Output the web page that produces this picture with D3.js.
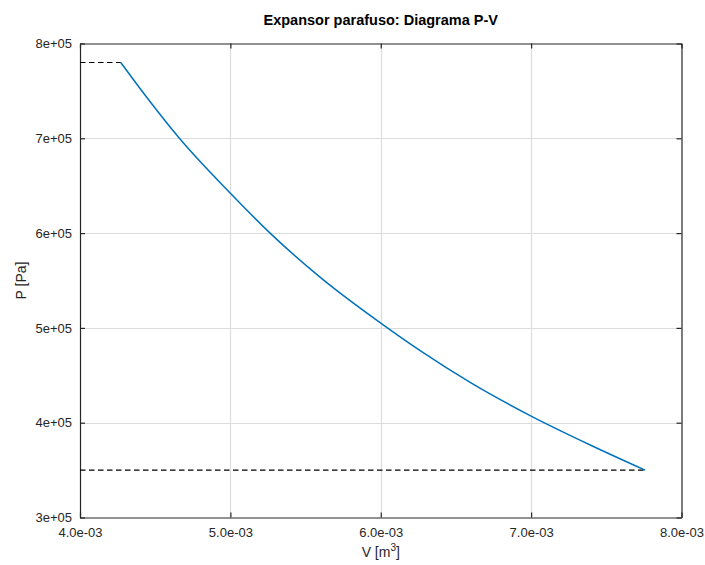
<!DOCTYPE html>
<html>
<head>
<meta charset="utf-8">
<script src="https://cdn.jsdelivr.net/npm/d3@7"></script>
<style>
  html, body { margin: 0; padding: 0; background: #ffffff; }
  svg { display: block; font-family: "Liberation Sans", Arial, Helvetica, sans-serif; }
</style>
</head>
<body>
<svg id="chart" width="705" height="565"></svg>
<script>
// Expansion curve of the screw expander (volume in m^3, pressure in Pa)
const volume   = [4.271e-3, 4.45e-3, 4.661e-3, 5.000e-3, 5.264e-3, 5.60e-3, 6.000e-3, 6.262e-3, 6.60e-3, 7.000e-3, 7.40e-3, 7.758e-3];
const pressure = [7.80e5,   7.42e5,  7.00e5,   6.42e5,   6.00e5,   5.53e5,  5.05e5,   4.76e5,   4.42e5,  4.07e5,   3.76e5,  3.50e5];

// Admission and discharge pressure levels (dashed)
const admission = { v: [4.0e-3, 4.271e-3], p: 7.80e5 };
const discharge = { v: [4.0e-3, 7.758e-3], p: 3.50e5 };

const xTicks = [4.0e-3, 5.0e-3, 6.0e-3, 7.0e-3, 8.0e-3];
const yTicks = [3e5, 4e5, 5e5, 6e5, 7e5, 8e5];
const xTickLabels = ["4.0e-03", "5.0e-03", "6.0e-03", "7.0e-03", "8.0e-03"];
const yTickLabels = ["3e+05", "4e+05", "5e+05", "6e+05", "7e+05", "8e+05"];

const titleText = "Expansor parafuso: Diagrama P-V";

const svg = d3.select("#chart");
const plot = { left: 80, right: 681.5, top: 43.5, bottom: 517.5 };

const x = d3.scaleLinear().domain([4.0e-3, 8.0e-3]).range([plot.left, plot.right]);
const y = d3.scaleLinear().domain([3e5, 8e5]).range([plot.bottom, plot.top]);

const axisColor = "#262626";
const gridColor = "#dcdcdc";

// Grid lines
const grid = svg.append("g");
grid.selectAll("line.vx").data(xTicks.slice(1, -1)).enter().append("line")
  .attr("x1", d => Math.round(x(d)) + 0.5).attr("x2", d => Math.round(x(d)) + 0.5)
  .attr("y1", plot.top).attr("y2", plot.bottom)
  .attr("stroke", gridColor).attr("stroke-width", 1.2);
grid.selectAll("line.hy").data(yTicks.slice(1, -1)).enter().append("line")
  .attr("y1", d => Math.round(y(d)) + 0.5).attr("y2", d => Math.round(y(d)) + 0.5)
  .attr("x1", plot.left).attr("x2", plot.right)
  .attr("stroke", gridColor).attr("stroke-width", 1.2);

// Axes with inward ticks on all four sides
const fmtX = (d, i) => xTickLabels[i];
const fmtY = (d, i) => yTickLabels[i];

const axB = svg.append("g").attr("transform", `translate(0,${plot.bottom})`)
  .call(d3.axisBottom(x).tickValues(xTicks).tickFormat(fmtX).tickSizeInner(-5).tickSizeOuter(0).tickPadding(10));
const axT = svg.append("g").attr("transform", `translate(0,${plot.top})`)
  .call(d3.axisTop(x).tickValues(xTicks).tickFormat("").tickSizeInner(-5).tickSizeOuter(0));
const axL = svg.append("g").attr("transform", `translate(${plot.left},0)`)
  .call(d3.axisLeft(y).tickValues(yTicks).tickFormat(fmtY).tickSizeInner(-5).tickSizeOuter(0).tickPadding(8));
const axR = svg.append("g").attr("transform", `translate(${plot.right},0)`)
  .call(d3.axisRight(y).tickValues(yTicks).tickFormat("").tickSizeInner(-5).tickSizeOuter(0));

[axB, axT, axL, axR].forEach(g => {
  g.select(".domain").attr("stroke", axisColor).attr("stroke-width", 1.2);
  g.selectAll(".tick line").attr("stroke", axisColor).attr("stroke-width", 1.2);
  g.selectAll(".tick text").attr("fill", axisColor).attr("font-size", 13)
    .attr("font-family", "'Liberation Sans', Arial, sans-serif");
});

// Dashed pressure levels
const dashLine = d3.line().x(d => x(d[0])).y(d => y(d[1]));
[admission, discharge].forEach(lvl => {
  svg.append("path")
    .attr("d", dashLine(lvl.v.map(v => [v, lvl.p])))
    .attr("fill", "none").attr("stroke", "#000000").attr("stroke-width", 1.1)
    .attr("stroke-dasharray", "5.5,3.5");
});

// Expansion curve
const curve = d3.line().x((d, i) => x(volume[i])).y((d, i) => y(pressure[i])).curve(d3.curveMonotoneX);
svg.append("path")
  .attr("d", curve(volume))
  .attr("fill", "none").attr("stroke", "#0072BD").attr("stroke-width", 1.5);

// Title and axis labels
svg.append("text").attr("x", (plot.left + plot.right) / 2).attr("y", 25)
  .attr("text-anchor", "middle").attr("font-weight", "bold").attr("font-size", 14.5)
  .attr("fill", "#000").text(titleText);

const xl = svg.append("text").attr("x", (plot.left + plot.right) / 2).attr("y", 557)
  .attr("text-anchor", "middle").attr("font-size", 14).attr("fill", axisColor);
xl.append("tspan").text("V [m");
xl.append("tspan").attr("dy", -6).attr("font-size", 10).text("3");
xl.append("tspan").attr("dy", 6).text("]");

svg.append("text").attr("transform", `translate(26,${(plot.top + plot.bottom) / 2}) rotate(-90)`)
  .attr("text-anchor", "middle").attr("font-size", 14).attr("fill", axisColor).text("P [Pa]");
</script>
</body>
</html>
